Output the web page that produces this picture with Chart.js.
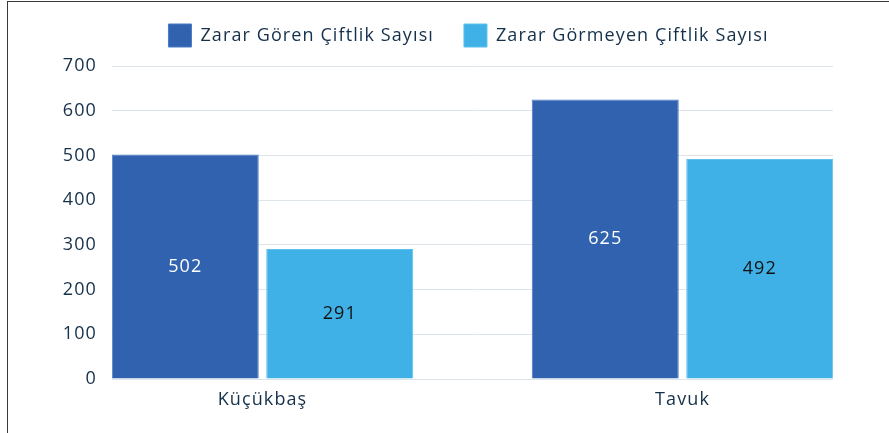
<!DOCTYPE html>
<html><head><meta charset="utf-8">
<script src="https://cdn.jsdelivr.net/npm/chart.js@4/dist/chart.umd.min.js"></script>
<style>
html,body{margin:0;padding:0;background:#fff;}
#wrap{position:relative;width:889px;height:433px;overflow:hidden;background:#fff;}
#frame{position:absolute;left:7px;top:1px;right:-10px;bottom:-10px;border-left:1px solid #3a3a3a;border-top:1px solid #3a3a3a;pointer-events:none;}
canvas{position:absolute;left:0;top:0;}
</style></head><body>
<div id="wrap"><canvas id="c" width="889" height="433"></canvas><div id="frame"></div></div>
<script>
// ---- data ----
const categories = ['Küçükbaş', 'Tavuk'];
const seriesNames = ['Zarar Gören Çiftlik Sayısı', 'Zarar Görmeyen Çiftlik Sayısı'];
const damagedFarms = [502, 625];
const undamagedFarms = [291, 492];
const yTickValues = [0, 100, 200, 300, 400, 500, 600, 700];

// ---- styling ----
const FONT = "'Open Sans', sans-serif";
const TEXT = '#15304a';
const BLUE = '#3062af';
const LIGHT = '#3fb1e6';
const SPACING = '1.1px';

const canvas = document.getElementById('c');

const toPoints = arr => arr.map((v, i) => ({x: i, y: v}));

const spacingPlugin = {
  id: 'spacing',
  beforeUpdate(chart) { if ('letterSpacing' in chart.ctx) chart.ctx.letterSpacing = SPACING; },
  beforeLayout(chart) { if ('letterSpacing' in chart.ctx) chart.ctx.letterSpacing = SPACING; },
  beforeDraw(chart) { if ('letterSpacing' in chart.ctx) chart.ctx.letterSpacing = SPACING; }
};

const valueLabels = {
  id: 'valueLabels',
  afterDatasetsDraw(chart) {
    const ctx = chart.ctx;
    chart.data.datasets.forEach((ds, di) => {
      const meta = chart.getDatasetMeta(di);
      meta.data.forEach((bar, i) => {
        const v = ds.data[i].y;
        ctx.save();
        ctx.font = (di === 0 ? '400 ' : '500 ') + '18px ' + FONT;
        ctx.fillStyle = di === 0 ? '#ffffff' : '#111111';
        ctx.textAlign = 'center';
        ctx.textBaseline = 'middle';
        ctx.fillText(String(v), bar.x, (bar.y + bar.base) / 2);
        ctx.restore();
      });
    });
  }
};

const legendFit = {
  id: 'legendFit',
  beforeInit(chart) {
    const lg = chart.legend;
    const origFit = lg.fit;
    lg.fit = function () { origFit.call(this); this.height = 66; };
    const origDraw = lg.draw;
    lg.draw = function () {
      const ctx = this.ctx;
      ctx.save();
      ctx.translate(52, -6);
      origDraw.apply(this, arguments);
      ctx.restore();
    };
  }
};

new Chart(canvas, {
  type: 'bar',
  data: {
    datasets: [
      {label: seriesNames[0], data: toPoints(damagedFarms), backgroundColor: BLUE, borderColor: '#4a7bc4', borderWidth: 1},
      {label: seriesNames[1], data: toPoints(undamagedFarms), backgroundColor: LIGHT, borderColor: '#5cc0ee', borderWidth: 1}
    ]
  },
  plugins: [spacingPlugin, valueLabels, legendFit],
  options: {
    responsive: false,
    animation: false,
    devicePixelRatio: 1,
    categoryPercentage: 0.7357,
    barPercentage: 0.9515,
    layout: {padding: {left: 0, right: 56, top: 0, bottom: 0}},
    plugins: {
      tooltip: {enabled: false},
      legend: {
        position: 'top',
        labels: {
          boxWidth: 23, boxHeight: 23, padding: 30,
          color: TEXT, font: {family: FONT, size: 18}
        }
      }
    },
    scales: {
      x: {
        type: 'linear',
        offset: false,
        bounds: 'data',
        min: -0.3583, max: 1.3583,
        afterBuildTicks: s => { s.ticks = categories.map((c, i) => ({value: i})); },
        afterFit: s => { s.height = 54; },
        grid: {display: false, offset: false},
        border: {display: false},
        ticks: {
          color: TEXT, font: {family: FONT, size: 18}, padding: 2,
          callback: v => categories[v] ?? ''
        }
      },
      y: {
        min: 0, max: 700,
        afterBuildTicks: s => { s.ticks = yTickValues.map(v => ({value: v})); },
        afterFit: s => { s.width = 112; },
        grid: {color: '#dde4ea', lineWidth: 1, drawTicks: false},
        border: {display: false},
        ticks: {color: TEXT, font: {family: FONT, size: 18}, padding: 15}
      }
    }
  }
});
</script>
</body></html>
